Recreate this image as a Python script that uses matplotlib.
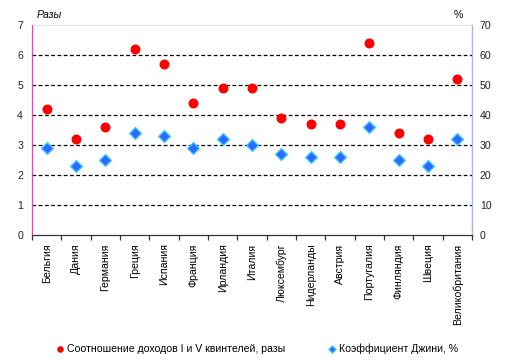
import numpy as np
import matplotlib.pyplot as plt
from matplotlib.ticker import FixedLocator

plt.rcParams['font.family'] = ['Liberation Sans', 'DejaVu Sans']

# ==================== DATA ====================
countries = ["Бельгия", "Дания", "Германия", "Греция", "Испания", "Франция",
             "Ирландия", "Италия", "Люксембург", "Нидерланды", "Австрия",
             "Португалия", "Финляндия", "Швеция", "Великобритания"]
ratio = [4.2, 3.2, 3.6, 6.2, 5.7, 4.4, 4.9, 4.9, 3.9, 3.7, 3.7, 6.4, 3.4, 3.2, 5.2]
gini = [29, 23, 25, 34, 33, 29, 32, 30, 27, 26, 26, 36, 25, 23, 32]

ratio_label = "Соотношение доходов I и V квинтелей, разы"
gini_label = "Коэффициент Джини, %"

FS = 7.6

# ==================== FIGURE ====================
fig = plt.figure(figsize=(5.13, 3.6), dpi=100)
ax = fig.add_axes([0.0624, 0.347, 0.858, 0.584])
ax2 = ax.twinx()

x = np.arange(len(countries))

h1 = ax.scatter(x, ratio, s=38, marker="o", color="#ff0000", zorder=5,
                label=ratio_label)
h2 = ax2.scatter(x, gini, s=36, marker="D", facecolor="#3366ff",
                 edgecolor="#33ccff", linewidth=1.0, zorder=5, label=gini_label)

ax.set_xlim(-0.5, len(countries) - 0.5)
ax.set_ylim(0, 7)
ax2.set_ylim(0, 70)
ax.set_yticks(range(0, 8))
ax2.set_yticks(range(0, 80, 10))

# grid
for v in range(1, 7):
    ax.axhline(v, color="black", lw=0.9, ls=(0, (3, 2)), zorder=1)
ax.axhline(7, color="#e0e0e0", lw=1.2, zorder=1)

# spines
for a in (ax, ax2):
    a.spines["top"].set_visible(False)
ax2.spines["left"].set_color("#ff33cc")
ax.spines["left"].set_color("#ff33cc")
ax2.spines["right"].set_color("#99bbff")
ax2.spines["bottom"].set_color("#333333")
ax.spines["bottom"].set_color("#333333")

ax.tick_params(axis="y", length=0, labelsize=FS, pad=6.5, colors="#222222")
ax2.tick_params(axis="y", length=0, labelsize=FS, pad=5.5, colors="#222222")

ax.set_xticks(x)
ax.set_xticklabels(countries, rotation=90, fontsize=FS)
ax.tick_params(axis="x", which="major", length=0, pad=6)
ax.xaxis.set_minor_locator(FixedLocator(np.arange(-0.5, len(countries), 1)))
ax.tick_params(axis="x", which="minor", length=3.5, width=0.9,
               direction="out", color="#333333")

# axis titles
ax.text(0.01, 1.025, "Разы", transform=ax.transAxes, fontsize=FS,
        style="italic", ha="left", va="bottom")
ax2.text(0.98, 1.025, "%", transform=ax2.transAxes, fontsize=FS,
         ha="right", va="bottom")

# legend
fig.legend(handles=[h1, h2], loc="lower center", bbox_to_anchor=(0.5, -0.01),
           ncol=2, frameon=False, fontsize=FS, handletextpad=0.1,
           columnspacing=4.0, markerscale=0.6, handlelength=1.0)

fig.savefig("out.png", dpi=100)
